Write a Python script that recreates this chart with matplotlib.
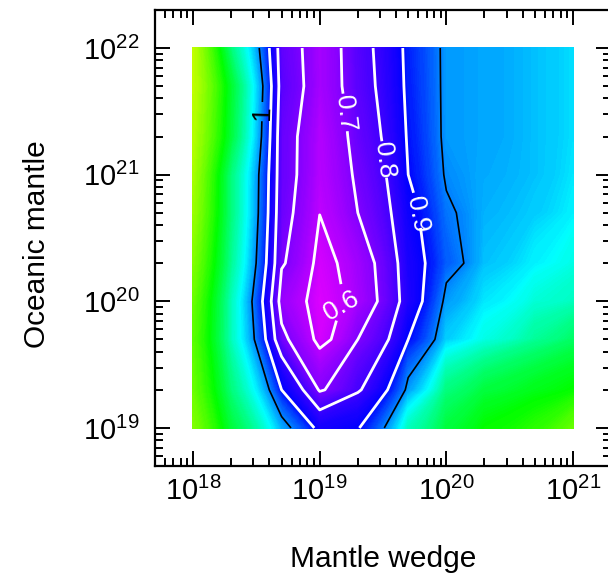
import numpy as np
import matplotlib
matplotlib.use("Agg")
import matplotlib.pyplot as plt
from matplotlib.colors import LinearSegmentedColormap

plt.rcParams['font.family'] = ['Liberation Sans', 'DejaVu Sans']
plt.rcParams['mathtext.fontset'] = 'custom'
plt.rcParams['mathtext.rm'] = 'Liberation Sans'
plt.rcParams['mathtext.it'] = 'Liberation Sans:italic'
plt.rcParams['mathtext.bf'] = 'Liberation Sans:bold'

# Mantle wedge viscosity (x) and oceanic mantle viscosity (y)
mantle_wedge = [1e18, 2e18, 5e18, 1e19, 2e19, 5e19, 1e20, 2e20, 5e20, 1e21]
oceanic_mantle = [1e19, 2e19, 5e19, 1e20, 2e20, 5e20, 1e21, 2e21, 5e21, 1e22]

# misfit values, rows follow oceanic_mantle, columns follow mantle_wedge
misfit = [
    [1.40, 1.25, 1.03, 0.870, 0.895, 1.15, 1.25, 1.30, 1.33, 1.38],
    [1.38, 1.20, 0.90, 0.690, 0.790, 1.02, 1.20, 1.25, 1.28, 1.30],
    [1.37, 1.15, 0.72, 0.570, 0.700, 0.90, 1.06, 1.12, 1.18, 1.22],
    [1.38, 1.15, 0.66, 0.555, 0.640, 0.85, 1.02, 1.08, 1.13, 1.15],
    [1.40, 1.18, 0.71, 0.570, 0.650, 0.86, 0.97, 1.05, 1.09, 1.12],
    [1.42, 1.20, 0.73, 0.602, 0.700, 0.88, 0.99, 1.04, 1.06, 1.09],
    [1.43, 1.20, 0.74, 0.615, 0.720, 0.90, 1.01, 1.035, 1.05, 1.08],
    [1.44, 1.25, 0.74, 0.620, 0.740, 0.91, 1.02, 1.03, 1.05, 1.075],
    [1.45, 1.26, 0.76, 0.640, 0.760, 0.92, 1.02, 1.03, 1.05, 1.075],
    [1.45, 1.20, 0.75, 0.640, 0.766, 0.925, 1.02, 1.03, 1.05, 1.075],
]

white_levels = [0.6, 0.7, 0.8, 0.9]
black_levels = [1.0]

vmin, vmax = 0.5, 1.7
stops = [(0.5, (1, 0, 1)), (0.9, (0, 0, 1)), (1.1, (0, 1, 1)),
         (1.3, (0, 1, 0)), (1.5, (1, 1, 0)), (1.7, (1, 0, 0))]
cmap = LinearSegmentedColormap.from_list(
    'gmtrainbow', [((v - vmin) / (vmax - vmin), c) for v, c in stops])

X, Y = np.meshgrid(mantle_wedge, oceanic_mantle)
Z = np.array(misfit)

fig = plt.figure(figsize=(6.08, 5.75), dpi=100)
ax = fig.add_axes([0.2548, 0.1894, 0.7503, 0.7934])
ax.set_xscale('log')
ax.set_yscale('log')

cf = ax.contourf(X, Y, Z, levels=np.linspace(vmin, vmax, 301), cmap=cmap,
                 vmin=vmin, vmax=vmax)
cf.set_edgecolor('face')
cf.set_linewidth(0.4)
cw = ax.contour(X, Y, Z, levels=white_levels, colors='white', linewidths=2.0)
cb = ax.contour(X, Y, Z, levels=black_levels, colors='black', linewidths=1.2)

fmt = lambda v: f"{v:g}"
wl = ax.clabel(cw, fmt=fmt, fontsize=19, inline=True, inline_spacing=4,
               manual=[(1.64e19, 9.0e19), (1.27e19, 2.96e21),
                       (2.59e19, 1.26e21), (5.36e19, 4.8e20)])
for t in wl:
    if t.get_text() == '0.6':
        t.set_rotation(30)
ax.clabel(cb, fmt=fmt, fontsize=19, inline=True, inline_spacing=4,
          manual=[(3.5e18, 3.07e21)])

ax.set_xlim(5e17, 2e21)
ax.set_ylim(5e18, 2e22)

for s in ax.spines.values():
    s.set_linewidth(1.6)
ax.tick_params(which='both', direction='in', top=True, right=True, width=1.4)
ax.tick_params(which='major', length=11, labelsize=21)
ax.tick_params(which='minor', length=5.5)
ax.tick_params(axis='x', which='major', pad=8)
ax.tick_params(axis='y', which='major', pad=11)

ax.set_xlabel('Mantle wedge', fontsize=21.5, va='baseline')
ax.xaxis.set_label_coords(0.5, -0.2212)
ax.set_ylabel('Oceanic mantle', fontsize=21.5, va='center')
ax.yaxis.set_label_coords(-0.2584, 0.4868)

fig.savefig('out.png', dpi=100)
